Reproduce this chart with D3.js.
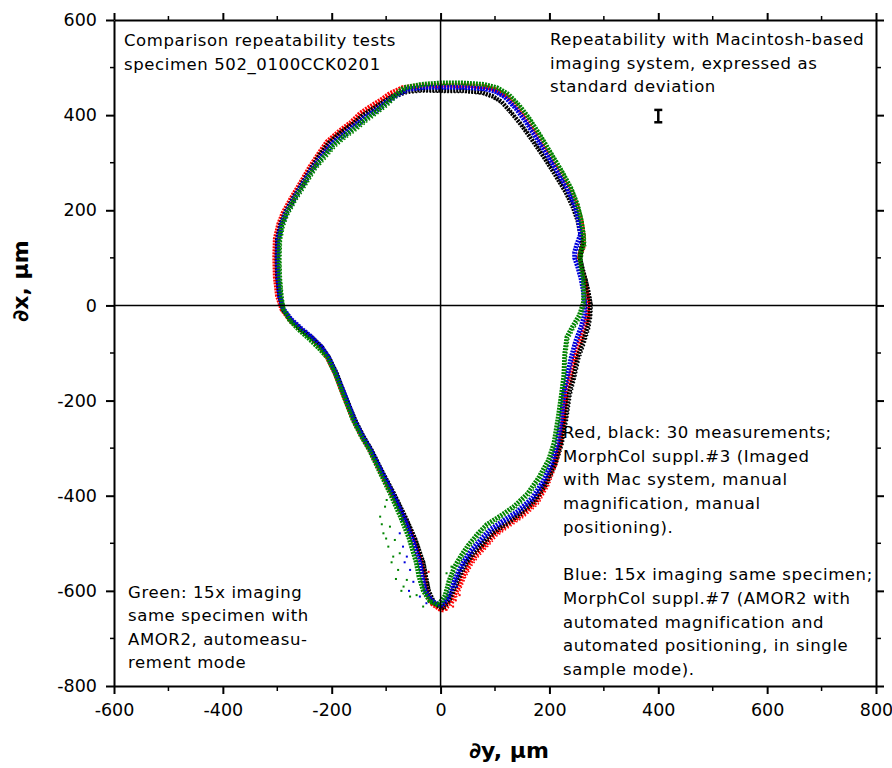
<!DOCTYPE html>
<html>
<head>
<meta charset="utf-8">
<script src="https://cdn.jsdelivr.net/npm/d3@7"></script>
<style>
  body { margin: 0; background: #fff; }
  text { font-family: "DejaVu Sans", sans-serif; fill: #000; }
</style>
</head>
<body>
<div id="chart"></div>
<script>
// Outline points per series, [dy, dx] in µm
const redPts = [
  [0,-640],[-15,-628],[-25,-605],[-29,-575],[-35,-542],[-50,-490],[-68,-444],[-90,-395],[-110,-350],[-130,-304],
  [-145,-275],[-160,-241],[-180,-185],[-194,-143],[-209,-108],[-222,-85],[-240,-66],[-258,-50],[-277,-31],[-292,-8],
  [-300,20],[-304,60],[-305,100],[-304,140],[-298,170],[-290,194],[-275,225],[-258,257],[-240,292],[-225,318],
  [-209,344],[-185,368],[-165,385],[-148,404],[-130,418],[-110,432],[-93,446],[-70,458],[-40,462],[0,463],
  [40,463],[80,460],[100,454],[121,441],[140,418],[158,391],[180,352],[201,313],[220,278],[238,243],
  [250,212],[258,180],[262,150],[262,128],[257,113],[254,100],[258,80],[264,55],[268,30],[271,5],
  [270,-20],[266,-40],[257,-70],[248,-105],[238,-150],[230,-185],[226,-234],[219,-290],[210,-330],[195,-375],
  [176,-413],[150,-440],[127,-458],[100,-480],[85,-500],[65,-525],[54,-542],[42,-568],[32,-595],[18,-625],[0,-640]
];
const blackPts = [
  [2,-636],[-12,-625],[-22,-600],[-27,-572],[-32,-540],[-47,-490],[-65,-444],[-86,-395],[-107,-350],[-127,-304],
  [-142,-275],[-157,-241],[-177,-185],[-191,-143],[-205,-110],[-218,-88],[-236,-68],[-255,-52],[-273,-33],[-289,-10],
  [-296,20],[-300,60],[-301,100],[-300,140],[-294,170],[-286,194],[-271,225],[-254,257],[-236,292],[-221,318],
  [-205,342],[-182,365],[-160,383],[-143,400],[-125,413],[-105,428],[-88,440],[-65,450],[-35,453],[0,452],
  [40,452],[75,448],[95,440],[112,428],[130,405],[148,380],[170,345],[192,308],[212,272],[230,238],
  [243,207],[252,178],[257,150],[260,128],[257,113],[256,100],[260,80],[266,55],[271,30],[275,5],
  [274,-20],[270,-45],[262,-75],[252,-108],[244,-150],[236,-185],[230,-234],[221,-290],[210,-330],[193,-372],
  [173,-408],[146,-436],[123,-455],[96,-476],[80,-496],[60,-520],[48,-538],[36,-562],[26,-590],[14,-620],[2,-636]
];
const bluePts = [
  [0,-630],[-15,-622],[-28,-600],[-34,-570],[-38,-540],[-52,-490],[-68,-444],[-88,-395],[-108,-350],[-128,-304],
  [-143,-275],[-158,-241],[-177,-185],[-192,-143],[-206,-108],[-220,-85],[-238,-65],[-256,-48],[-275,-28],[-290,-5],
  [-296,20],[-299,60],[-300,100],[-299,140],[-293,170],[-285,194],[-270,225],[-253,257],[-235,290],[-218,315],
  [-200,340],[-178,360],[-158,378],[-140,395],[-120,410],[-102,426],[-85,440],[-62,455],[-30,459],[0,459],
  [40,459],[78,456],[100,450],[118,438],[138,414],[155,388],[177,350],[198,312],[217,276],[234,242],
  [246,210],[253,180],[257,150],[250,128],[246,112],[246,100],[252,80],[258,55],[262,30],[265,5],
  [264,-20],[258,-45],[248,-75],[240,-108],[232,-150],[226,-185],[222,-234],[214,-290],[204,-330],[188,-370],
  [168,-405],[142,-432],[118,-450],[92,-470],[75,-490],[56,-515],[44,-535],[32,-560],[22,-588],[12,-615],[0,-630]
];
const greenPts = [
  [-5,-630],[-20,-622],[-32,-600],[-40,-570],[-45,-540],[-58,-490],[-74,-444],[-93,-395],[-112,-350],[-131,-304],
  [-146,-275],[-161,-241],[-180,-185],[-194,-143],[-208,-110],[-224,-90],[-242,-70],[-260,-52],[-277,-32],[-289,-8],
  [-293,20],[-296,60],[-297,100],[-296,140],[-291,170],[-283,194],[-268,225],[-250,257],[-232,290],[-214,314],
  [-197,337],[-176,357],[-155,375],[-137,392],[-118,408],[-100,424],[-86,440],[-68,458],[-35,465],[0,468],
  [40,468],[80,465],[104,458],[125,444],[145,420],[162,395],[184,356],[204,318],[223,282],[240,246],
  [251,214],[258,182],[262,152],[263,130],[258,115],[256,100],[258,80],[262,55],[263,30],[262,5],
  [255,-20],[242,-45],[232,-66],[228,-100],[226,-150],[222,-185],[216,-234],[208,-290],[198,-325],[180,-362],
  [160,-395],[135,-422],[110,-442],[85,-460],[68,-480],[50,-505],[38,-525],[25,-550],[15,-580],[8,-610],[-5,-630]
];

// Loose dots near the tip
const greenStray = [[-111,-444],[-102,-423],[-105,-479],[-96,-507],[-87,-528],[-78,-556],[-68,-591],[-56,-612],
  [-93,-465],[-84,-493],[-75,-521],[-62,-577],[-44,-609],[-32,-633],[-99,-409],[11,-563],[20,-549],
  [-108,-460],[-90,-540],[-72,-600],[-100,-490],[-82,-575]];
const blueStray = [[-75,-479],[-69,-507],[-62,-528],[-56,-556],[-50,-581],[-38,-612],[-71,-451],[-26,-626],[17,-612],[30,-591],
  [-66,-540],[-58,-600]];
const redStray = [[11,-640],[23,-633],[-32,-591],[35,-609],[-22,-560],[28,-620]];

// Standard deviation marker
const sdMarker = [{ dy: 400, dx: 398, sd: 13 }];

const xTicks = [-600, -400, -200, 0, 200, 400, 600, 800];
const yTicks = [-800, -600, -400, -200, 0, 200, 400, 600];
const xMinor = [-500, -300, -100, 100, 300, 500, 700];
const yMinor = [-700, -500, -300, -100, 100, 300, 500];

const noteTopLeft = ['Comparison repeatability tests', 'specimen 502_0100CCK0201'];
const noteTopRight = ['Repeatability with Macintosh-based', 'imaging system, expressed as', 'standard deviation'];
const noteRight = ['Red, black: 30 measurements;', 'MorphCol suppl.#3 (Imaged', 'with Mac system, manual',
  'magnification, manual', 'positioning).', '', 'Blue: 15x imaging same specimen;',
  'MorphCol suppl.#7 (AMOR2 with', 'automated magnification and', 'automated positioning, in single', 'sample mode).'];
const noteGreen = ['Green: 15x imaging', 'same specimen with', 'AMOR2, automeasu-', 'rement mode'];

const width = 892;
const height = 768;
const margin = {top: 20, right: 16, bottom: 82, left: 114};

const svg = d3.select('#chart')
  .append('svg')
    .attr('width', width)
    .attr('height', height);

const x = d3.scaleLinear()
  .domain([-600, 800])
  .range([margin.left, width - margin.right]);
const y = d3.scaleLinear()
  .domain([-800, 600])
  .range([height - margin.bottom, margin.top]);

// Outlines, drawn as dotted bands
const series = [
  {pts: redPts, color: '#ff0000', stray: redStray},
  {pts: blackPts, color: '#000000', stray: []},
  {pts: bluePts, color: '#0000dd', stray: blueStray},
  {pts: greenPts, color: '#008400', stray: greenStray}
];
const line = d3.line()
  .x(d => x(d[0]))
  .y(d => y(d[1]));

const outlines = svg.append('g').attr('class', 'outlines');
series.forEach(s => {
  outlines.append('path')
    .attr('d', line(s.pts))
    .attr('fill', 'none')
    .attr('stroke', s.color)
    .attr('stroke-width', 4.5)
    .attr('stroke-dasharray', '2 1');
  outlines.append('path')
    .attr('d', line(s.pts))
    .attr('fill', 'none')
    .attr('stroke', s.color)
    .attr('stroke-width', 1.5)
    .attr('stroke-dasharray', '1.5 2')
    .attr('transform', 'translate(2,2)');
  outlines.selectAll(null)
    .data(s.stray)
    .join('rect')
      .attr('x', d => x(d[0]) - 1)
      .attr('y', d => y(d[1]) - 1)
      .attr('width', 2)
      .attr('height', 2)
      .attr('fill', s.color);
});

// Zero lines
svg.append('line')
  .attr('x1', x(0)).attr('x2', x(0))
  .attr('y1', y(600)).attr('y2', y(-800))
  .attr('stroke', '#000').attr('stroke-width', 1.5);
svg.append('line')
  .attr('x1', x(-600)).attr('x2', x(800))
  .attr('y1', y(0)).attr('y2', y(0))
  .attr('stroke', '#000').attr('stroke-width', 1.5);

// Axes (frame on four sides, outward ticks)
const fmt = d => d3.format('d')(d).replace('−', '-');
const drawAxis = (axis, transform, labels) => {
  const g = svg.append('g')
    .attr('transform', transform)
    .call(axis);
  g.select('.domain').attr('stroke-width', 2);
  g.selectAll('.tick line').attr('stroke-width', 2);
  g.selectAll('.tick text')
    .style('font-family', '"DejaVu Sans", sans-serif')
    .style('font-size', '17.5px')
    .attr('fill', '#000');
  if (!labels) g.selectAll('.tick text').remove();
  return g;
};
drawAxis(d3.axisBottom(x).tickValues(xTicks).tickSize(8).tickSizeOuter(0).tickPadding(10).tickFormat(fmt),
  `translate(0,${y(-800)})`, true);
drawAxis(d3.axisLeft(y).tickValues(yTicks).tickSize(8).tickSizeOuter(0).tickPadding(9).tickFormat(fmt),
  `translate(${x(-600)},0)`, true);
drawAxis(d3.axisTop(x).tickValues(xTicks).tickSize(7).tickSizeOuter(0),
  `translate(0,${y(600)})`, false);
drawAxis(d3.axisRight(y).tickValues(yTicks).tickSize(8).tickSizeOuter(0),
  `translate(${x(800)},0)`, false);

// Minor ticks
const minor = svg.append('g')
  .attr('stroke', '#000')
  .attr('stroke-width', 1.5);
minor.selectAll(null).data(xMinor).join('line')
  .attr('x1', d => x(d)).attr('x2', d => x(d))
  .attr('y1', y(-800)).attr('y2', y(-800) + 5);
minor.selectAll(null).data(xMinor).join('line')
  .attr('x1', d => x(d)).attr('x2', d => x(d))
  .attr('y1', y(600)).attr('y2', y(600) - 4);
minor.selectAll(null).data(yMinor).join('line')
  .attr('x1', x(-600)).attr('x2', x(-600) - 4)
  .attr('y1', d => y(d)).attr('y2', d => y(d));
minor.selectAll(null).data(yMinor).join('line')
  .attr('x1', x(800)).attr('x2', x(800) + 5)
  .attr('y1', d => y(d)).attr('y2', d => y(d));

// Standard deviation marker
const sd = svg.append('g')
  .attr('stroke', '#000')
  .attr('stroke-width', 2.5);
sdMarker.forEach(d => {
  sd.append('line')
    .attr('x1', x(d.dy)).attr('x2', x(d.dy))
    .attr('y1', y(d.dx + d.sd)).attr('y2', y(d.dx - d.sd));
  [d.dx + d.sd, d.dx - d.sd].forEach(v => {
    sd.append('line')
      .attr('x1', x(d.dy) - 4).attr('x2', x(d.dy) + 4)
      .attr('y1', y(v)).attr('y2', y(v));
  });
});

// Axis titles
svg.append('text')
  .attr('text-anchor', 'middle')
  .attr('x', 509)
  .attr('y', 758)
  .style('font-size', '22px')
  .style('font-weight', 700)
  .text('∂y, µm');
svg.append('text')
  .attr('text-anchor', 'middle')
  .attr('transform', 'translate(28,281) rotate(-90)')
  .style('font-size', '22px')
  .style('font-weight', 700)
  .text('∂x, µm');

// Notes
const note = (lines, x0, y0, lh) => {
  svg.append('text')
    .style('font-size', '16.5px')
    .style('letter-spacing', '0.6px')
    .selectAll('tspan')
    .data(lines)
    .join('tspan')
      .attr('x', x0)
      .attr('y', (d, i) => y0 + i * lh)
      .text(d => d);
};
note(noteTopLeft, 124, 46, 24);
note(noteTopRight, 550, 45, 23.5);
note(noteRight, 563, 438, 23.7);
note(noteGreen, 128, 598, 23.4);
</script>
</body>
</html>
